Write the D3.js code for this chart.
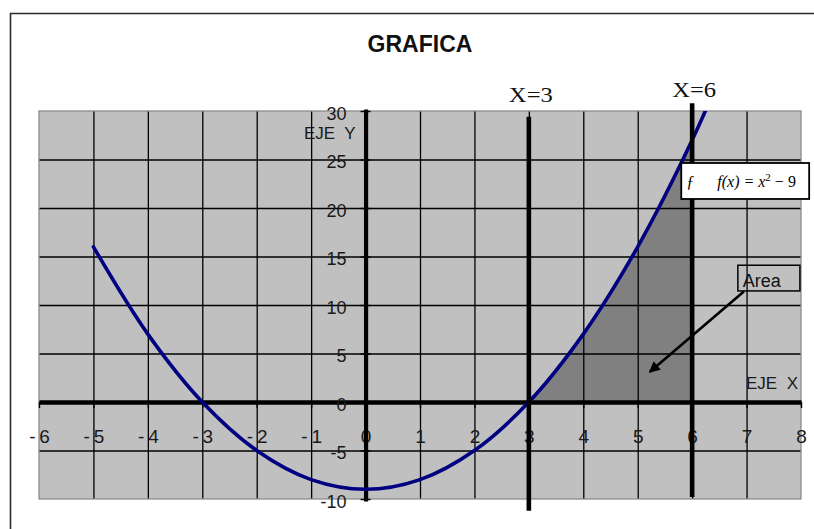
<!DOCTYPE html>
<html>
<head>
<meta charset="utf-8">
<script src="https://cdn.jsdelivr.net/npm/d3@7"></script>
<style>
  html, body { margin: 0; padding: 0; background: #ffffff; }
  svg { display: block; }
  .sans { font-family: Arial, "Liberation Sans", sans-serif; }
  .serif { font-family: "Times New Roman", "Liberation Serif", serif; }
</style>
</head>
<body>
<svg id="chart" width="814" height="529"></svg>
<script>
// f(x) = x^2 - 9, sampled at whole numbers
const xValues = [-5, -4, -3, -2, -1, 0, 1, 2, 3, 4, 5, 6, 7];
const yValues = [16, 7, 0, -5, -8, -9, -8, -5, 0, 7, 16, 27, 40];

// axis ticks
const xTicks = [-6, -5, -4, -3, -2, -1, 0, 1, 2, 3, 4, 5, 6, 7, 8];
const yTicks = [-10, -5, 0, 5, 10, 15, 20, 25, 30];

// integration limits and their vertical guide lines
const limits = [3, 6];
const limitLabels = ["X=3", "X=6"];
const limitTop = [29.4, 30.8];
const limitBottom = [-11.2, -9.8];
const limitLabelY = [30.9, 31.45];

// annotation: "Area" callout box and its arrow (data units)
const areaBoxX = [6.84, 7.98];
const areaBoxY = [11.45, 14.1];
const arrowFrom = [6.95, 11.4];
const arrowTo = [5.22, 3.1];

// formula box (data units)
const formulaBoxX = [5.8, 8.15];
const formulaBoxY = [20.93, 24.64];

const points = xValues.map((v, i) => ({ x: v, y: yValues[i] }));

const plot = { left: 39, right: 801, top: 111, bottom: 499 };
const svg = d3.select("#chart");

const x = d3.scaleLinear().domain([-6, 8]).range([plot.left, plot.right]);
const y = d3.scaleLinear().domain([-10, 30]).range([plot.bottom, plot.top]);

const defs = svg.append("defs");
defs.append("clipPath").attr("id", "plotClip")
  .append("rect")
  .attr("x", plot.left).attr("y", plot.top)
  .attr("width", plot.right - plot.left).attr("height", plot.bottom - plot.top);
defs.append("clipPath").attr("id", "areaClip")
  .append("rect")
  .attr("x", x(limits[0])).attr("y", plot.top)
  .attr("width", x(limits[1]) - x(limits[0])).attr("height", plot.bottom - plot.top);
defs.append("marker")
  .attr("id", "arrowHead")
  .attr("viewBox", "0 0 10 10")
  .attr("refX", 9).attr("refY", 5)
  .attr("markerWidth", 13).attr("markerHeight", 11)
  .attr("markerUnits", "userSpaceOnUse")
  .attr("orient", "auto")
  .append("path")
  .attr("d", "M0,0 L10,5 L0,10 z")
  .attr("fill", "#000");

// outer frame of the sheet
svg.append("path")
  .attr("d", "M10.5,529 V13.5 H814")
  .attr("fill", "none")
  .attr("stroke", "#2a2a2a")
  .attr("stroke-width", 1.6);

// title
svg.append("text")
  .attr("class", "sans")
  .attr("x", 420).attr("y", 52)
  .attr("text-anchor", "middle")
  .attr("font-size", 23)
  .attr("font-weight", "bold")
  .attr("fill", "#111")
  .text("GRAFICA");

// plot background
svg.append("rect")
  .attr("x", plot.left).attr("y", plot.top)
  .attr("width", plot.right - plot.left).attr("height", plot.bottom - plot.top)
  .attr("fill", "#c0c0c0");

// shaded region under the curve between the limits
svg.append("g").attr("clip-path", "url(#plotClip)")
  .append("path")
  .datum(points)
  .attr("clip-path", "url(#areaClip)")
  .attr("fill", "#808080")
  .attr("d", d3.area()
    .x(d => x(d.x))
    .y0(y(0))
    .y1(d => y(d.y))
    .curve(d3.curveCatmullRom.alpha(0.5)));

// grid lines
const gridX = svg.append("g")
  .attr("transform", `translate(0,${plot.bottom})`)
  .call(d3.axisBottom(x)
    .tickValues(xTicks.slice(1, -1))
    .tickSize(-(plot.bottom - plot.top))
    .tickFormat(""));
gridX.select(".domain").remove();
gridX.selectAll("line").attr("stroke", "#000").attr("stroke-width", 1.3);

const gridY = svg.append("g")
  .attr("transform", `translate(${plot.left},0)`)
  .call(d3.axisLeft(y)
    .tickValues(yTicks.slice(1, -1))
    .tickSize(-(plot.right - plot.left))
    .tickFormat(""));
gridY.select(".domain").remove();
gridY.selectAll("line").attr("stroke", "#000").attr("stroke-width", 1.3);

// plot border
svg.append("rect")
  .attr("x", plot.left).attr("y", plot.top)
  .attr("width", plot.right - plot.left).attr("height", plot.bottom - plot.top)
  .attr("fill", "none")
  .attr("stroke", "#8c8c8c")
  .attr("stroke-width", 1.3);

// x axis through y = 0
const xAxis = svg.append("g")
  .attr("transform", `translate(0,${y(0)})`)
  .call(d3.axisBottom(x)
    .tickValues(xTicks)
    .tickSizeInner(6)
    .tickSizeOuter(0)
    .tickFormat(d => d < 0 ? "-\u2009" + (-d) : String(d)));
xAxis.attr("font-family", null);
xAxis.select(".domain").attr("stroke", "#000").attr("stroke-width", 4.5);
xAxis.selectAll(".tick line").attr("stroke", "#000").attr("stroke-width", 1.4);
xAxis.selectAll(".tick text")
  .attr("class", "sans")
  .attr("y", 41).attr("dy", null)
  .attr("font-size", 19)
  .attr("fill", "#1a1a1a");

// y axis through x = 0
const yAxis = svg.append("g")
  .attr("transform", `translate(${x(0)},0)`)
  .call(d3.axisLeft(y)
    .tickValues(yTicks)
    .tickSizeInner(5)
    .tickSizeOuter(0)
    .tickFormat(d => d < 0 ? "-" + (-d) : String(d)));
yAxis.attr("font-family", null);
yAxis.select(".domain")
  .attr("stroke", "#000").attr("stroke-width", 4.2)
  .attr("stroke-linecap", "square");
yAxis.selectAll(".tick line")
  .attr("x1", 5)
  .attr("stroke", "#000").attr("stroke-width", 1.4);
yAxis.selectAll(".tick text")
  .attr("class", "sans")
  .attr("x", -19).attr("dy", 8)
  .attr("font-size", 18)
  .attr("fill", "#1a1a1a");

// axis names
svg.append("text")
  .attr("class", "sans")
  .attr("x", x(0) - 10).attr("y", y(30) + 28)
  .attr("text-anchor", "end")
  .attr("font-size", 17)
  .attr("fill", "#1a1a1a")
  .style("white-space", "pre")
  .text("EJE  Y");
svg.append("text")
  .attr("class", "sans")
  .attr("x", x(8) - 3).attr("y", y(0) - 13)
  .attr("text-anchor", "end")
  .attr("font-size", 17)
  .attr("fill", "#1a1a1a")
  .style("white-space", "pre")
  .text("EJE  X");

// the parabola
svg.append("g").attr("clip-path", "url(#plotClip)")
  .append("path")
  .datum(points)
  .attr("fill", "none")
  .attr("stroke", "#000080")
  .attr("stroke-width", 3.6)
  .attr("stroke-linejoin", "round")
  .attr("stroke-linecap", "round")
  .attr("d", d3.line()
    .x(d => x(d.x))
    .y(d => y(d.y))
    .curve(d3.curveCatmullRom.alpha(0.5)));

// vertical guide lines at the limits
svg.selectAll(".limit")
  .data(limits)
  .join("line")
  .attr("class", "limit")
  .attr("x1", d => x(d)).attr("x2", d => x(d))
  .attr("y1", (d, i) => y(limitTop[i]))
  .attr("y2", (d, i) => y(limitBottom[i]))
  .attr("stroke", "#000")
  .attr("stroke-width", 4.6);

svg.selectAll(".limitLabel")
  .data(limits)
  .join("text")
  .attr("class", "limitLabel serif")
  .attr("transform", (d, i) => `translate(${x(d) + 2},${y(limitLabelY[i])}) scale(1.12,1)`)
  .attr("text-anchor", "middle")
  .attr("font-size", 22)
  .attr("fill", "#111")
  .text((d, i) => limitLabels[i]);

// formula box
svg.append("rect")
  .attr("x", x(formulaBoxX[0])).attr("y", y(formulaBoxY[1]))
  .attr("width", x(formulaBoxX[1]) - x(formulaBoxX[0]))
  .attr("height", y(formulaBoxY[0]) - y(formulaBoxY[1]))
  .attr("fill", "#ffffff")
  .attr("stroke", "#000")
  .attr("stroke-width", 1.8);

const formula = svg.append("text")
  .attr("class", "serif")
  .attr("y", y(formulaBoxY[0]) - 12)
  .attr("font-style", "italic")
  .attr("font-size", 16)
  .attr("fill", "#000");
formula.append("tspan").attr("x", x(formulaBoxX[0]) + 5).text("ƒ");
formula.append("tspan").attr("x", x(formulaBoxX[0]) + 36).text("f(x) = x");
formula.append("tspan").attr("dy", -6).attr("font-size", 11).attr("font-style", "normal").text("2");
formula.append("tspan").attr("dy", 6).attr("font-style", "normal").text(" \u2212 9");

// "Area" callout
svg.append("rect")
  .attr("x", x(areaBoxX[0])).attr("y", y(areaBoxY[1]))
  .attr("width", x(areaBoxX[1]) - x(areaBoxX[0]))
  .attr("height", y(areaBoxY[0]) - y(areaBoxY[1]))
  .attr("fill", "none")
  .attr("stroke", "#000")
  .attr("stroke-width", 1.5);
svg.append("text")
  .attr("class", "sans")
  .attr("x", x(areaBoxX[0]) + 5).attr("y", y(areaBoxY[0]) - 4)
  .attr("font-size", 18)
  .attr("fill", "#111")
  .text("Area");

svg.append("line")
  .attr("x1", x(arrowFrom[0])).attr("y1", y(arrowFrom[1]))
  .attr("x2", x(arrowTo[0])).attr("y2", y(arrowTo[1]))
  .attr("stroke", "#000")
  .attr("stroke-width", 2.6)
  .attr("marker-end", "url(#arrowHead)");
</script>
</body>
</html>
